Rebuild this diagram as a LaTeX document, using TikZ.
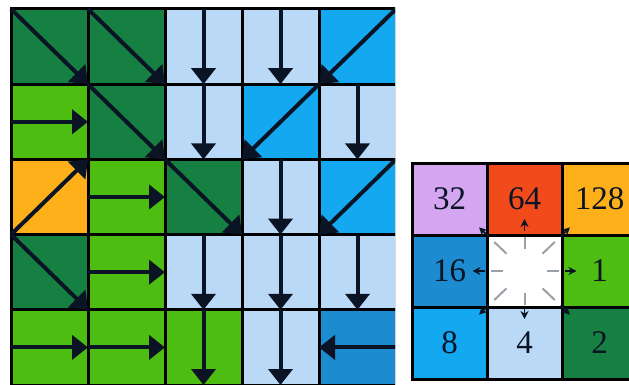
\documentclass[tikz,border=0pt]{standalone}
\usepackage{fontspec}
\usetikzlibrary{arrows.meta,calc}
\newfontfamily\lblfont{Liberation Serif}
\definecolor{DirE}{HTML}{4DBD12}
\definecolor{DirSE}{HTML}{167F42}
\definecolor{DirS}{HTML}{BAD9F7}
\definecolor{DirSW}{HTML}{14A8F0}
\definecolor{DirW}{HTML}{1C8BD0}
\definecolor{DirNW}{HTML}{D4A6F2}
\definecolor{DirN}{HTML}{F24B1B}
\definecolor{DirNE}{HTML}{FDB01A}
\definecolor{InkDark}{HTML}{0B1424}
\definecolor{RayGray}{HTML}{9AA0A8}

% row/col/colour/from anchor/to anchor
\def\flowcells{
  1/1/DirSE/north west/south east, 1/2/DirSE/north west/south east,
  1/3/DirS/north/south, 1/4/DirS/north/south, 1/5/DirSW/north east/south west,
  2/1/DirE/west/east, 2/2/DirSE/north west/south east, 2/3/DirS/north/south,
  2/4/DirSW/north east/south west, 2/5/DirS/north/south,
  3/1/DirNE/south west/north east, 3/2/DirE/west/east,
  3/3/DirSE/north west/south east, 3/4/DirS/north/south,
  3/5/DirSW/north east/south west,
  4/1/DirSE/north west/south east, 4/2/DirE/west/east, 4/3/DirS/north/south,
  4/4/DirS/north/south, 4/5/DirS/north/south,
  5/1/DirE/west/east, 5/2/DirE/west/east, 5/3/DirE/north/south,
  5/4/DirS/north/south, 5/5/DirW/east/west}

\begin{document}
\begin{tikzpicture}[x=1pt,y=-1pt,
    cell/.style={draw=black,line width=3pt,outer sep=0pt,inner sep=0pt,
                 minimum width=77pt,minimum height=75.2pt,fill=#1},
    key/.style={draw=black,line width=3pt,outer sep=0pt,inner sep=0pt,
                minimum width=75pt,minimum height=72pt,fill=#1,
                font=\lblfont\fontsize{33}{33}\selectfont,text=InkDark},
    flow/.style={-{Triangle[width=24pt,length=16pt]},line width=4pt,InkDark},
    ray/.style={line width=2pt,RayGray},
    raytip/.style={-{Stealth[width=8pt,length=8pt]},line width=1.8pt,InkDark}]
\useasboundingbox (0,0) rectangle (629,385);
\clip (0,0) rectangle (629,385);

% flow direction grid
\begin{scope}
\clip (0,0) rectangle (395,385);
\foreach \r/\c/\col/\from/\to in \flowcells
  \node[cell=\col] (f\r\c) at ({11+77*(\c-0.5)},{9+75.2*(\r-0.5)}) {};
\foreach \r/\c/\col/\from/\to in \flowcells
  \draw[flow] (f\r\c.\from) -- (f\r\c.\to);
\end{scope}

% direction codes
\node[key=DirNW] (k32)  at (449.5,199) {32};
\node[key=DirN]  (k64)  at (524.5,199) {64};
\node[key=DirNE] (k128) at (599.5,199) {128};
\node[key=DirW]  (k16)  at (449.5,271) {16};
\node[key=white] (k0)   at (524.5,271) {};
\node[key=DirE]  (k1)   at (599.5,271) {1};
\node[key=DirSW] (k8)   at (449.5,343) {8};
\node[key=DirS]  (k4)   at (524.5,343) {4};
\node[key=DirSE] (k2)   at (599.5,343) {2};

\foreach \n/\a/\b/\p/\q in {1/22/34/40/52, 2/25/42/50/63, 4/22/34/38/48,
    8/25/42/50/63, 16/22/34/40/52, 32/25/42/50/63, 64/22/34/40/52,
    128/25/42/50/63}{
  \draw[ray] ($(k0)!\a pt!(k\n)$) -- ($(k0)!\b pt!(k\n)$);
  \draw[raytip] ($(k0)!\p pt!(k\n)$) -- ($(k0)!\q pt!(k\n)$);
}
\end{tikzpicture}
\end{document}
